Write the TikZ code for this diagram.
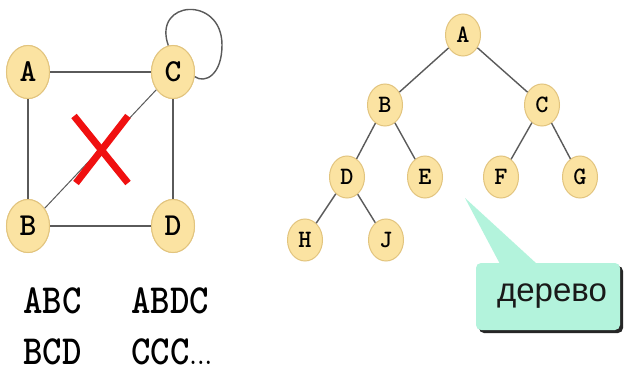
\documentclass[tikz,border=0pt]{standalone}
\usepackage{fontspec}
\setsansfont{Liberation Sans}
\usetikzlibrary{shapes.geometric}
\definecolor{nodefill}{HTML}{FBE3A2}
\definecolor{noderim}{HTML}{E2C47E}
\definecolor{edgec}{HTML}{5A5A5A}
\definecolor{callfill}{HTML}{B3F3DC}
\definecolor{xred}{HTML}{F01010}
\begin{document}
\begin{tikzpicture}[x=1pt,y=-1pt,
  gnode/.style={ellipse,fill=nodefill,draw=noderim,line width=1pt,minimum width=43pt,minimum height=53pt,inner sep=0pt,font=\ttfamily\bfseries\fontsize{32}{32}\selectfont},
  tnode/.style={ellipse,fill=nodefill,draw=noderim,line width=1pt,minimum width=35pt,minimum height=42pt,inner sep=0pt,font=\ttfamily\bfseries\fontsize{25}{25}\selectfont},
  edge/.style={draw=edgec,line width=1.4pt},
  path/.style={anchor=base west,inner sep=0pt,font=\ttfamily\bfseries\fontsize{37}{37}\selectfont}]
\useasboundingbox[fill=white] (0,0) rectangle (624,372);
% left graph
\node[gnode] (A) at (28,72) {A};
\node[gnode] (C) at (173,72) {C};
\node[gnode] (B) at (28,226) {B};
\node[gnode] (D) at (173,226) {D};
\draw[edge] (A) -- (C);
\draw[edge] (A) -- (B);
\draw[edge] (B) -- (D);
\draw[edge] (C) -- (D);
\draw[draw=edgec,line width=1pt] (B) -- (C);
\draw[edge] (C.100) .. controls (152,0) and (222,-5) .. (222,45) .. controls (222,75) and (205,84) .. (C.-12);
\node[gnode] at (28,72) {A};
\node[gnode] at (173,72) {C};
\node[gnode] at (28,226) {B};
\node[gnode] at (173,226) {D};
% red cross
\coordinate (x1) at (74,116);
\coordinate (x2) at (128,183);
\coordinate (x3) at (76,183);
\coordinate (x4) at (128,116);
\draw[xred,line width=7pt] (x1) -- (x2);
\draw[xred,line width=7pt] (x3) -- (x4);
% paths
\node[path] (p1) at (23,313) {\scalebox{1}[1.12]{ABC}};
\node[path] (p2) at (131,313) {\scalebox{1}[1.12]{ABDC}};
\node[path] (p3) at (23,364) {\scalebox{1}[1.12]{BCD}};
\node[path] (p4) at (131,364) {\scalebox{1}[1.12]{CCC{\fontsize{22}{22}\selectfont\kern-2pt.\kern-4pt.\kern-4pt.}}};
% tree
\node[tnode] (tA) at (463,35) {A};
\node[tnode] (tB) at (385,105) {B};
\node[tnode] (tC) at (542,105) {C};
\node[tnode] (tD) at (347,177) {D};
\node[tnode] (tE) at (425,177) {E};
\node[tnode] (tF) at (501,177) {F};
\node[tnode] (tG) at (580,177) {G};
\node[tnode] (tH) at (305,240) {H};
\node[tnode] (tJ) at (386,240) {J};
\draw[edge] (tA) -- (tB);
\draw[edge] (tA) -- (tC);
\draw[edge] (tB) -- (tD);
\draw[edge] (tB) -- (tE);
\draw[edge] (tC) -- (tF);
\draw[edge] (tC) -- (tG);
\draw[edge] (tD) -- (tH);
\draw[edge] (tD) -- (tJ);
% callout
\coordinate (tip) at (465,198);
\fill[black!85,rounded corners=5pt] (479,266) rectangle (623,333);
\fill[callfill,rounded corners=5pt] (476,263) rectangle (620,330);
\fill[callfill] (tip) -- (537,264) -- (500,264) -- cycle;
\node[font=\sffamily\fontsize{33}{33}\selectfont,text=black!90,inner sep=0pt] (lbl) at (552,296) {дерево};
\end{tikzpicture}
\end{document}
